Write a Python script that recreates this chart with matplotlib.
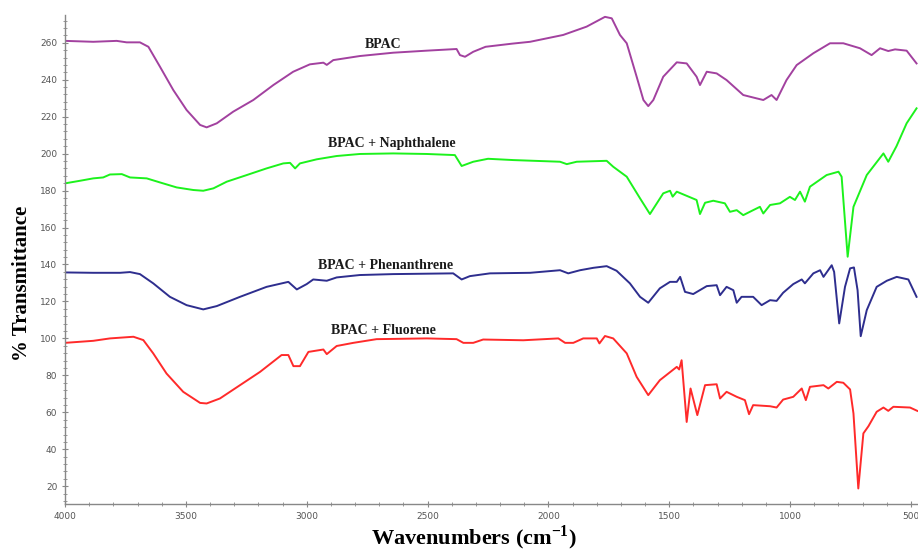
"""FTIR-спектры BPAC и BPAC с адсорбированными ПАУ."""

import matplotlib

matplotlib.use("Agg")
import matplotlib.pyplot as plt
from matplotlib.ticker import MultipleLocator

# BPAC
bpac_wn = [4000, 3883, 3786, 3745, 3690, 3655, 3607, 3552, 3497, 3441, 3414, 3372,
           3304, 3221, 3138, 3056, 2987, 2931, 2917, 2890, 2780, 2642, 2504, 2380,
           2366, 2345, 2311, 2260, 2150, 2076, 1939, 1842, 1766, 1738, 1704, 1676,
           1635, 1607, 1587, 1566, 1525, 1469, 1428, 1387, 1373, 1345, 1304, 1263,
           1194, 1139, 1111, 1077, 1056, 1015, 973, 904, 835, 780, 711, 663, 628,
           594, 566, 518, 477]
bpac_t = [261, 260.5, 261, 260.2, 260.2, 257.8, 247, 234.4, 223.6, 215.5, 214.2, 216.4,
          222.7, 229, 237.1, 244.3, 248.3, 249.2, 248, 250.6, 252.8, 254.6, 255.7, 256.6,
          253.3, 252.4, 255.1, 257.8, 259.5, 260.5, 264.2, 268.7, 274, 273.2, 264.2, 259.7,
          241.6, 229, 225.7, 229, 241.6, 249.4, 248.8, 241.6, 237.1, 244.3, 243.4, 239.8,
          231.7, 229.9, 229, 231.7, 229, 239.8, 247.9, 254.3, 259.7, 259.7, 257, 253.3, 257,
          255.5, 256.4, 255.7, 248.8]

# BPAC + Naphthalene
naph_wn = [4000, 3938, 3883, 3842, 3814, 3765, 3731, 3662, 3607, 3538, 3469, 3428,
           3386, 3331, 3248, 3166, 3097, 3069, 3048, 3028, 2959, 2876, 2780, 2642,
           2504, 2387, 2359, 2311, 2250, 2145, 1952, 1924, 1883, 1759, 1732, 1676,
           1621, 1580, 1525, 1497, 1486, 1469, 1387, 1373, 1352, 1318, 1270, 1249,
           1221, 1194, 1153, 1125, 1111, 1083, 1042, 1001, 980, 959, 939, 918, 849,
           800, 787, 762, 738, 683, 614, 594, 560, 518, 477]
naph_t = [183.9, 185.3, 186.6, 187.1, 188.7, 188.9, 187.1, 186.6, 184.4, 181.7, 180.3, 179.9,
          181.2, 184.8, 188.4, 192, 194.7, 195, 192, 194.7, 196.9, 198.7, 199.8, 200.1,
          199.8, 199.2, 193.3, 195.6, 197.2, 196.5, 195.6, 194.3, 195.6, 196.1, 192.9, 187.5,
          175.8, 167.3, 178.5, 179.9, 176.7, 179.4, 174.9, 167.3, 173.4, 174.5, 173.1, 168.5,
          169.4, 166.7, 169.4, 171.2, 167.6, 172.2, 173.1, 176.6, 174.9, 179.4, 174, 182.1, 188.4,
          190.2, 187.5, 144.2, 171.2, 188.4, 200.1, 195.6, 204, 216.4, 224.5]

# BPAC + Phenanthrene
phen_wn = [4000, 3883, 3772, 3731, 3690, 3635, 3566, 3497, 3428, 3372, 3276, 3166,
           3076, 3041, 3000, 2973, 2917, 2876, 2780, 2642, 2394, 2359, 2325, 2242,
           2076, 1952, 1918, 1869, 1814, 1759, 1718, 1663, 1621, 1587, 1539, 1497,
           1469, 1455, 1435, 1401, 1345, 1304, 1290, 1263, 1235, 1221, 1201, 1153,
           1118, 1083, 1056, 1029, 987, 952, 939, 904, 876, 862, 828, 818, 797, 773,
           752, 736, 721, 708, 683, 642, 600, 559, 511, 477]
phen_t = [135.7, 135.5, 135.5, 135.9, 134.8, 129.8, 122.5, 118, 115.7, 117.5, 122.5, 127.9,
          130.6, 126.5, 129.4, 131.9, 131.2, 133, 134.3, 134.8, 135.2, 131.9, 133.7, 135.2,
          135.5, 136.9, 135.2, 136.9, 138.2, 139.1, 136.6, 129.8, 122.5, 119.3, 127.1, 130.6,
          130.6, 133.3, 125.2, 124, 128.3, 128.8, 123.4, 127.9, 126.1, 119.3, 122.5, 122.5,
          118, 120.7, 120.3, 124.7, 129.4, 131.9, 129.8, 135.2, 136.9, 133.3, 139.6, 136, 108.1,
          127.9, 137.9, 138.4, 126.1, 101.2, 115.3, 127.9, 131.2, 133.3, 131.9, 122.5]

# BPAC + Fluorene
fluo_wn = [4000, 3883, 3814, 3717, 3676, 3635, 3580, 3511, 3441, 3414, 3359, 3276,
           3193, 3104, 3076, 3055, 3028, 2993, 2931, 2917, 2876, 2807, 2711, 2504,
           2380, 2352, 2311, 2270, 2104, 1959, 1931, 1897, 1856, 1800, 1789, 1766,
           1732, 1676, 1635, 1587, 1539, 1469, 1459, 1449, 1428, 1412, 1384, 1352,
           1304, 1290, 1263, 1221, 1187, 1170, 1153, 1083, 1056, 1029, 987, 952, 935,
           918, 862, 842, 807, 780, 752, 738, 718, 697, 676, 642, 614, 594, 573, 504, 474]
fluo_t = [97.6, 98.7, 100, 100.9, 99.1, 91.9, 81, 71.1, 65.1, 64.8, 67.5, 74.7,
          81.9, 91, 91, 85, 85, 92.7, 94, 91.5, 95.9, 97.6, 99.6, 100,
          99.6, 97.6, 97.6, 99.4, 99, 100, 97.6, 97.6, 100, 100, 97.3, 101.3,
          100, 91.9, 79.2, 69.3, 77.4, 84.6, 83.2, 88.2, 54.8, 72.9, 58.5, 74.7,
          75.2, 67.5, 71.1, 68.4, 66.6, 59, 63.9, 63.3, 62.6, 66.9, 68.4, 72.9, 66.6,
          73.8, 74.7, 72.9, 76.5, 76, 72.4, 59.4, 18.8, 48.6, 52.5, 60.3, 62.6, 60.8, 63, 62.6, 60.8]

series = [
    (bpac_wn, bpac_t, "#A2419F", "BPAC", 2684, 259.3),
    (naph_wn, naph_t, "#1CF21C", "BPAC + Naphthalene", 2647, 205.2),
    (phen_wn, phen_t, "#2E2E8E", "BPAC + Phenanthrene", 2672, 139.7),
    (fluo_wn, fluo_t, "#FF2A2A", "BPAC + Fluorene", 2684, 104.5),
]

fig = plt.figure(figsize=(9.18, 5.55), dpi=100)
ax = fig.add_axes([65 / 918, 51 / 555, 853 / 918, 489 / 555])

for wn, t, color, name, lx, ly in series:
    ax.plot(wn, t, color=color, linewidth=1.4)
    ax.text(lx, ly, name, ha="center", va="center", fontsize=10,
            fontweight="bold", family="Liberation Serif", color="#1a1a1a")

ax.set_xlim(4000, 471)
ax.set_ylim(10.4, 275)
ax.set_xticks(range(4000, 499, -500))
ax.xaxis.set_minor_locator(MultipleLocator(100))
ax.set_yticks(range(20, 261, 20))
ax.yaxis.set_minor_locator(MultipleLocator(4))

for side in ("top", "right"):
    ax.spines[side].set_visible(False)
for side in ("left", "bottom"):
    ax.spines[side].set_color("#888888")
    ax.spines[side].set_linewidth(1.0)

ax.tick_params(which="both", direction="inout", colors="#888888",
               labelcolor="#555555", labelsize=6.5)
ax.tick_params(which="major", length=4)
ax.tick_params(which="minor", length=2.5)
ax.tick_params(axis="x", pad=4)
for lbl in ax.get_xticklabels() + ax.get_yticklabels():
    lbl.set_family(["Liberation Sans Narrow", "DejaVu Sans"])

# Подпись оси X: верхний индекс задан через mathregular, чтобы шрифт совпадал.
fig.text(474 / 918, 1 - 538 / 555, r"Wavenumbers (cm$^{\mathregular{-1}}$)",
         ha="center", va="center", fontsize=16, fontweight="bold",
         family="Liberation Serif")
fig.text(22 / 918, 1 - 283 / 555, "% Transmittance", ha="center", va="center",
         rotation=90, fontsize=15, fontweight="bold", family="Liberation Serif")

fig.savefig("out.png", dpi=100)
